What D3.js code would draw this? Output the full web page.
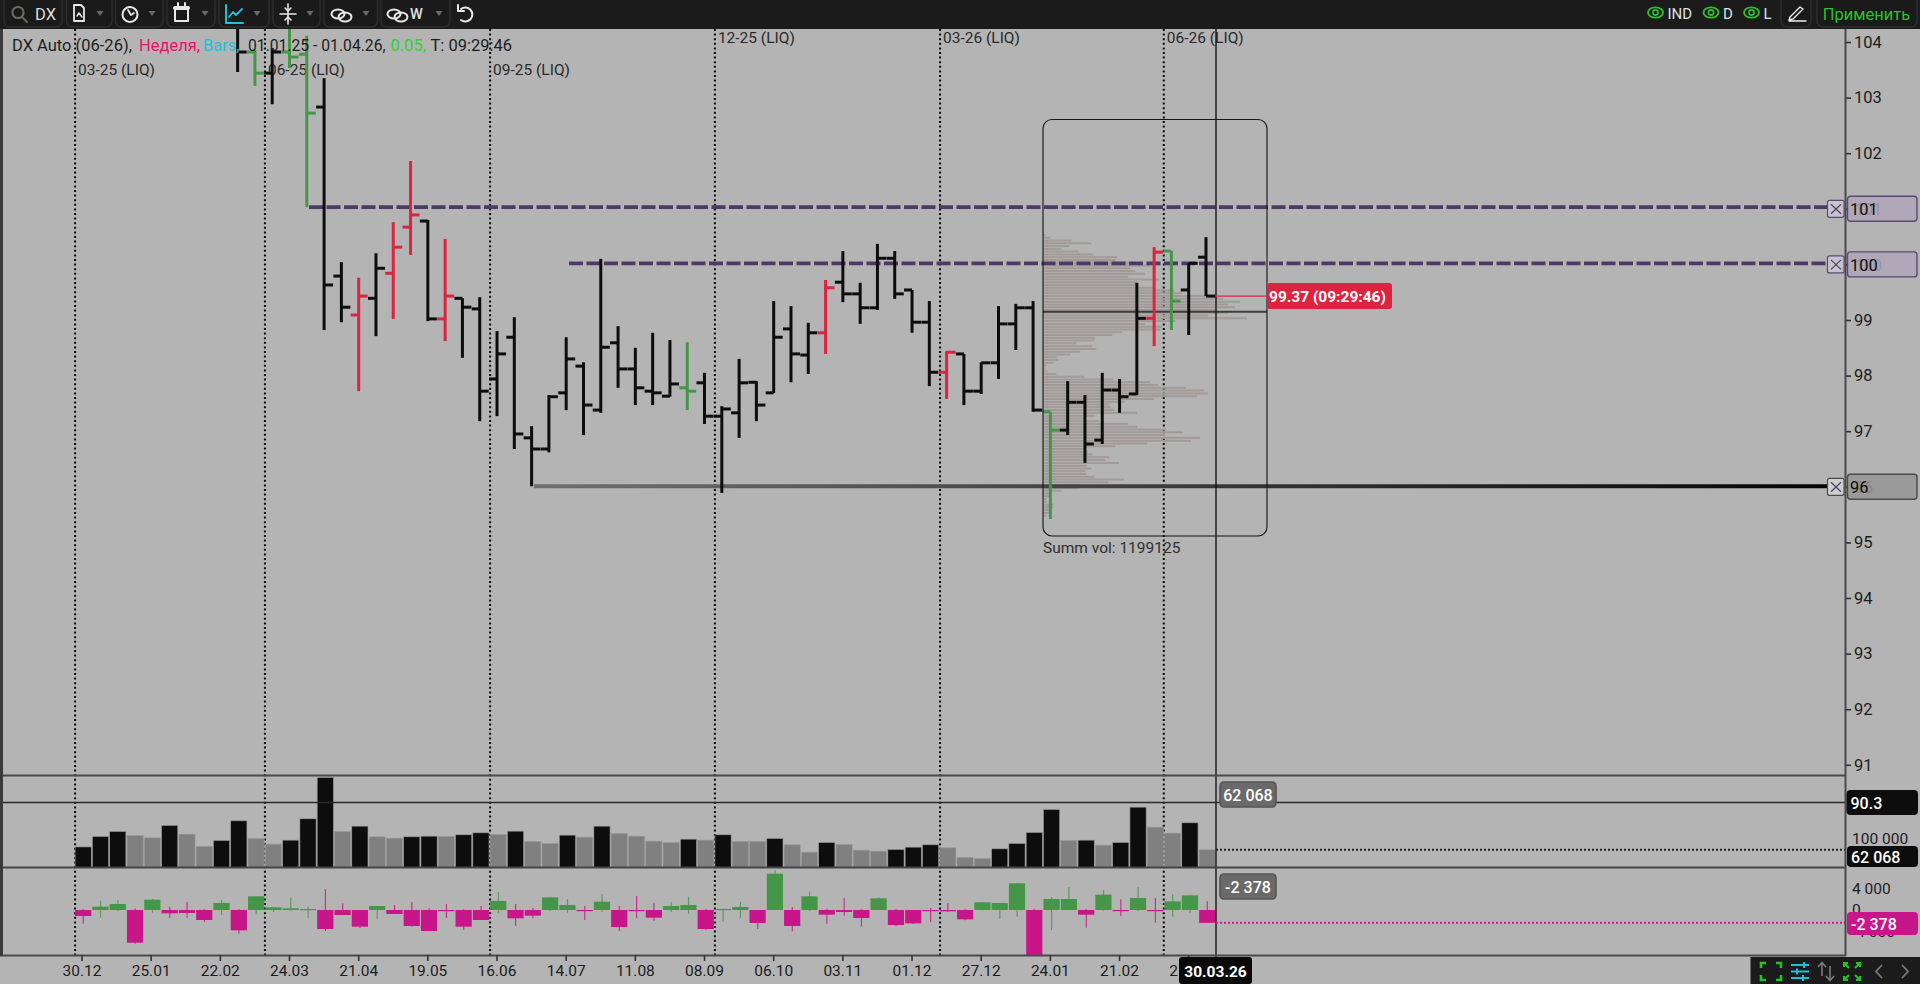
<!DOCTYPE html>
<html><head><meta charset="utf-8"><title>DX</title>
<script src="https://cdn.jsdelivr.net/npm/d3@7"></script>
<style>
html,body{margin:0;padding:0;background:#b4b4b4;overflow:hidden}
svg{display:block}
text{font-family:Roboto,"Noto Sans",sans-serif}
</style></head><body><svg id="c" width="1920" height="984"></svg>
<script>
// ---- data ----
const dateLabels=["30.12","25.01","22.02","24.03","21.04","19.05","16.06","14.07","11.08","08.09","06.10","03.11","01.12","27.12","24.01","21.02","21.03"];
const priceTicks=[91,92,93,94,95,96,97,98,99,100,101,102,103,104];
const firstVisibleBar=9;
const barHigh=[104.5,103.86,103.89,104.5,104.11,103.35,100.04,99.76,100.20,100.76,101.86,100.80,100.46,99.39,99.41,98.80,99.05,97.09,97.65,98.69,98.24,100.10,98.89,98.50,98.77,98.64,98.60,98.05,97.45,98.30,97.90,99.34,99.25,98.95,99.72,100.24,99.67,100.37,100.24,99.54,99.34,98.44,98.39,98.24,99.25,99.29,99.34,97.35,97.90,97.65,98.05,97.94,99.67,100.31,100.24,100.02,100.49];
const barLow=[103.46,103.21,102.88,103.53,101.03,98.82,98.96,97.72,98.71,99.02,100.17,98.98,98.62,98.32,97.18,97.27,96.68,96.01,96.62,97.38,96.93,97.33,97.78,97.47,97.47,97.62,97.38,97.13,95.89,96.88,97.18,97.69,97.88,98.03,98.39,99.32,98.93,99.18,99.38,98.77,97.81,97.58,97.47,97.67,97.94,98.46,97.35,95.42,96.93,96.43,96.77,97.33,97.65,98.53,98.82,98.73,99.43];
const barOpen=[104.4,103.82,103.44,103.82,103.78,102.83,99.79,99.09,99.39,99.84,100.67,100.78,99.02,99.39,99.20,97.94,98.69,96.88,96.68,97.69,98.17,97.38,98.59,98.12,97.72,97.63,97.78,97.87,97.27,97.33,97.88,97.69,98.84,98.37,98.77,99.68,99.47,99.22,100.11,99.54,98.96,98.06,98.39,97.72,98.23,98.93,99.22,97.35,97.02,97.52,96.84,97.74,97.67,99.03,100.24,99.54,100.13];
const barClose=[103.82,103.44,103.82,103.73,102.72,99.63,99.23,99.43,99.93,100.31,100.89,99.02,99.43,99.23,97.72,98.39,96.95,96.68,97.62,98.30,97.47,98.51,98.12,97.78,97.69,97.85,97.72,97.27,97.40,97.87,97.47,98.69,98.39,98.77,99.58,99.47,99.22,100.11,99.47,98.96,98.06,98.42,97.72,98.23,98.93,99.22,97.38,97.02,97.52,96.77,97.74,97.62,99.03,100.22,99.34,100.02,99.43];
const redBars=[16,18,19,21,43,50,62];
const greenBars=[10,12,13,35,56,63];
const volume=[72000,108500,126000,112000,103900,147000,116700,73500,94500,163400,101500,81700,95700,170400,315000,126000,144700,107400,102700,107400,109700,108500,114400,121400,115500,127200,91000,84000,113200,106200,144700,119000,109700,92200,87500,99200,95700,114400,91000,91000,101500,79400,53700,87500,80500,60700,57200,63000,71200,79400,68900,35000,31500,65400,84000,122500,203000,94500,95700,78200,87500,211200,141200,120200,156400,62068];
const greyVolumeBars=[3,4,6,7,10,11,15,17,18,21,24,26,27,29,31,32,33,34,36,38,39,41,42,44,45,46,50,51,52,57,59,62,63,65];
const deltaClose=[-1110,617,1110,-6050,1910,-617,-555,-1850,1300,-3760,2530,494,310,185,-3520,-925,-3085,740,-740,-2960,-3890,-120,-3085,-1850,1670,-1540,-1050,2340,925,-185,1540,-3150,-120,-1420,740,925,-3520,185,555,-2400,6725,-2960,2530,-864,-370,-1480,2160,-2780,-2470,-60,-247,-1730,1420,1300,4940,-8800,2040,2040,-864,2840,-185,2220,-185,1600,2710,-2378];
const deltaHigh=[120,1730,1850,300,2040,617,1480,120,1850,120,2530,494,2280,617,3890,1230,0,740,925,1480,308,1110,120,740,3330,1110,370,2340,2040,740,2960,740,2590,1360,1480,2470,120,310,1480,0,7400,555,3400,247,2220,120,2340,120,0,370,1300,120,1420,1300,4940,120,2400,4260,120,3700,1970,4260,2220,2900,2710,1600];
const deltaLow=[-2530,-1420,-185,-6230,-490,-1480,-1480,-2220,-925,-4380,-800,-370,-120,-1480,-3890,-925,-3330,-1730,-740,-3085,-3890,-1480,-3700,-1850,-617,-2960,-1540,-120,-494,-1850,-310,-3890,-1540,-2040,-370,-740,-3700,-2160,-1540,-3520,0,-4000,-185,-2530,-1050,-3085,0,-2900,-2590,-2280,-370,-1910,-60,-1670,-1230,-8800,-3700,0,-3270,-120,-1110,-120,-2340,-1230,-494,-2378];
const profileTopPrice=100.53, profileStep=0.05, pocPrice=99.15;
const profileVolume=[15,30,93,153,87,63,114,159,231,225,280,330,270,285,315,264,357,290,295,345,402,425,525,549,600,564,585,528,564,504,621,405,315,366,360,246,216,165,162,108,156,168,120,90,51,54,39,18,15,21,48,132,219,330,354,438,492,504,471,342,255,207,210,222,291,165,135,177,264,291,378,429,375,480,453,321,225,135,142,156,207,195,237,140,153,135,138,162,252,204,120,117,63,30,27,18,20,39,38,27,27,18,10];
const levelPrices=[101.03,100.02,96.01];
const rolloverBars=[-0.4,10.58,23.6,36.6,49.62,62.56];
const rolloverNames=["03-25 (LIQ)","06-25 (LIQ)","09-25 (LIQ)","12-25 (LIQ)","03-26 (LIQ)","06-26 (LIQ)"];

// ---- scales ----
const svg=d3.select("#c");
const x=d3.scaleLinear().domain([0,65]).range([82,1206]);
const y=d3.scaleLinear().domain([104,91]).range([42,764.8]);
const yVol=d3.scaleLinear().domain([0,315000]).range([867.5,777.5]);
const yDelta=d3.scaleLinear().domain([-8880,7400]).range([958,870]);
const xProf=d3.scaleLinear().domain([0,621]).range([1040.4,1247]);
const col={k:"#0d0d0d",r:"#dc2340",g:"#46964a"};
const barKind=i=>redBars.includes(i)?"r":greenBars.includes(i)?"g":"k";
const font="Roboto,'Noto Sans',sans-serif";

function rect(p,a,b,w,h,f,s,r){return p.append("rect").attr("x",a).attr("y",b).attr("width",w).attr("height",h).attr("fill",f||"none").attr("stroke",s||"none").attr("rx",r||0)}
function line(p,a,b,c,d,s,w,dash){const l=p.append("line").attr("x1",a).attr("y1",b).attr("x2",c).attr("y2",d).attr("stroke",s).attr("stroke-width",w);if(dash)l.attr("stroke-dasharray",dash);return l}
function txt(p,t,a,b,s,f,o){o=o||{};return p.append("text").text(t).attr("x",a).attr("y",b).attr("font-size",s).attr("fill",f).attr("text-anchor",o.anchor||"start").attr("font-weight",o.w||400).attr("dominant-baseline","central").attr("opacity",o.op==null?1:o.op)}

const defs=svg.append("defs");
defs.append("clipPath").attr("id","pMain").append("rect").attr("x",3).attr("y",29).attr("width",1842).attr("height",746);
defs.append("clipPath").attr("id","pVol").append("rect").attr("x",3).attr("y",776).attr("width",1842).attr("height",91);
defs.append("clipPath").attr("id","pDelta").append("rect").attr("x",3).attr("y",868).attr("width",1842).attr("height",87);
const gr=defs.append("linearGradient").attr("id","g96").attr("gradientUnits","userSpaceOnUse").attr("x1",534).attr("x2",1827).attr("y1",0).attr("y2",0);
gr.append("stop").attr("offset",0).attr("stop-color","#707070");
gr.append("stop").attr("offset",1).attr("stop-color","#050505");

rect(svg,0,0,1920,984,"#b4b4b4");

// rollover verticals
rolloverBars.forEach(b=>line(svg,x(b),29,x(b),955,"#0a0a0a",2,"2 2.6"));
rolloverNames.forEach((n,i)=>txt(svg,n,x(rolloverBars[i])+3,i<3?70:38,15.5,"#2a2a2a"));

// profile
const main=svg.append("g").attr("clip-path","url(#pMain)");
main.selectAll("line.prof").data(profileVolume).join("line").attr("class","prof")
 .attr("x1",1043).attr("x2",d=>xProf(d))
 .attr("y1",(d,i)=>y(profileTopPrice-i*profileStep)).attr("y2",(d,i)=>y(profileTopPrice-i*profileStep))
 .attr("stroke","#a29999").attr("stroke-width",2);

// level lines
[levelPrices[0],levelPrices[1]].forEach((p,i)=>{
 line(main,i==0?309:569,y(p),1827,y(p),"#4b3a63",3.8,"14 3.5");
});
line(main,534,y(levelPrices[2]),1827,y(levelPrices[2])+.01,"url(#g96)",4);

// POC
line(main,1043,y(pocPrice),1267,y(pocPrice),"#3e3e3e",2);

// OHLC
const bars=main.selectAll("g.bar").data(barHigh.map((h,i)=>({i:i+firstVisibleBar,h,l:barLow[i],o:barOpen[i],c:barClose[i],k:barKind(i+firstVisibleBar)}))).join("g").attr("class","bar");
bars.append("line").attr("x1",d=>x(d.i)).attr("x2",d=>x(d.i)).attr("y1",d=>y(d.h)).attr("y2",d=>y(d.l)).attr("stroke",d=>col[d.k]).attr("stroke-width",3);
bars.append("line").attr("x1",d=>x(d.i)-8).attr("x2",d=>x(d.i)).attr("y1",d=>y(d.o)).attr("y2",d=>y(d.o)).attr("stroke",d=>col[d.k]).attr("stroke-width",3);
bars.append("line").attr("x1",d=>x(d.i)).attr("x2",d=>x(d.i)+9).attr("y1",d=>y(d.c)).attr("y2",d=>y(d.c)).attr("stroke",d=>col[d.k]).attr("stroke-width",3);

// profile box
rect(svg,1043,119.5,224,416.5,"none","#151515",9).attr("stroke-width",1.1);
txt(svg,"Summ vol: 1199125",1043,548,15.5,"#2f2f2f");

// volume pane
const vg=svg.append("g").attr("clip-path","url(#pVol)");
vg.selectAll("rect").data(volume).join("rect")
 .attr("x",(d,i)=>x(i)-6.9).attr("width",16.2).attr("y",d=>yVol(d)).attr("height",d=>yVol(0)-yVol(d))
 .attr("fill",(d,i)=>greyVolumeBars.includes(i)?"#808080":"#0d0d0d").attr("stroke","#9a9a9a").attr("stroke-width",.6);

// delta pane
const dg=svg.append("g").attr("clip-path","url(#pDelta)");
const dc=d=>d>=0?"#46964a":"#c9158a";
dg.selectAll("line").data(deltaClose).join("line")
 .attr("x1",(d,i)=>x(i)+1.3).attr("x2",(d,i)=>x(i)+1.3).attr("y1",(d,i)=>yDelta(deltaHigh[i])).attr("y2",(d,i)=>yDelta(deltaLow[i]))
 .attr("stroke",d=>dc(d)).attr("stroke-width",1.2).attr("opacity",.8);
dg.selectAll("rect").data(deltaClose).join("rect")
 .attr("x",(d,i)=>x(i)-6.9).attr("width",16.2).attr("y",d=>Math.min(yDelta(d),yDelta(0))).attr("height",d=>Math.max(1.2,Math.abs(yDelta(d)-yDelta(0))))
 .attr("fill",d=>dc(d));

// crosshair and pointers
line(svg,1216,29,1216,957,"#0a0a0a",1.3);
line(svg,3,802.5,1846,802.5,"#2a2a2a",1.4);
line(svg,1216,yVol(62068),1846,yVol(62068),"#222",2,"2 2");
line(svg,1216,yDelta(-2378),1846,yDelta(-2378),"#d01590",2,"2 2");
line(svg,1216,y(99.43),1267,y(99.43),"#dc2340",1.2);
rect(svg,1267,283,125,26,"#dc2340",null,3);
txt(svg,"99.37 (09:29:46)",1269,296.5,15.5,"#fff",{w:700});

// pane frames
line(svg,0,775.5,1846,775.5,"#4a4a4a",2);
line(svg,0,867.5,1846,867.5,"#454545",2);
line(svg,0,955.5,1846,955.5,"#4a4a4a",2);
rect(svg,0,29,3,927,"#3a3a3a");
line(svg,1845.5,29,1845.5,956,"#4a4a4a",2);

// axes
const aP=svg.append("g").attr("transform","translate(1846,0)").call(d3.axisRight(y).tickValues(priceTicks).tickSize(5).tickPadding(3).tickFormat(d3.format("d")));
const aV=svg.append("g").attr("transform","translate(1846,0)").call(d3.axisRight(yVol).tickValues([100000]).tickSize(0).tickPadding(6).tickFormat(()=>"100 000"));
const aD=svg.append("g").attr("transform","translate(1846,0)").call(d3.axisRight(yDelta).tickValues([4000,0,-4000]).tickSize(0).tickPadding(6).tickFormat(d=>d3.format("d")(Math.abs(d)).replace(/(\d)(\d{3})$/,"$1 $2").replace(/^/,d<0?"-":"")));
const aX=svg.append("g").attr("transform","translate(-0.5,955)").call(d3.axisBottom(x).tickValues(dateLabels.map((d,i)=>i*4)).tickSize(6).tickPadding(4).tickFormat((d,i)=>dateLabels[i]));
[aP,aV,aD,aX].forEach(a=>{a.select(".domain").remove();a.selectAll("line").attr("stroke","#333").attr("stroke-width",1.6);a.selectAll("text").attr("fill","#1c1c1c").attr("font-size",15.5).attr("font-family",font)});
aP.selectAll("text").attr("font-size",16.5);

// level tags on the price axis
function levelTag(label,cy,fill,stroke){
 rect(svg,1847.5,cy-12.5,69.5,25,fill,stroke,3).attr("stroke-width",1.4);
 txt(svg,label,1855,cy+1,16,"#111",{op:.15});
 txt(svg,label,1850,cy+1,16.5,"#0c0c0c");
 rect(svg,1827.5,cy-8.5,16.5,17,fill=="#9a9a9a"?"#cfcfcf":"#c9c3cf",stroke,2).attr("stroke-width",1.2);
 line(svg,1831,cy-4.5,1841,cy+5,"#4a4458",1.2);line(svg,1841,cy-4.5,1831,cy+5,"#4a4458",1.2);
}
levelTag("101",y(101),"#b0a7b8","#5a4a70");
levelTag("100",y(100),"#b0a7b8","#5a4a70");
levelTag("96",y(96),"#9a9a9a","#4a4a4a");

// value tags
function tag(t,a,b,w,h,f,s,left){rect(svg,a,b,w,h,f,s,4).attr("stroke-width",1.6);txt(svg,t,left?a+4:a+w/2,b+h/2+.5,16,"#fff",{anchor:left?"start":"middle",w:500})}
tag("90.3",1846.5,790,71.5,25,"#0d0d0d",null,true);
tag("62 068",1847,846,71,21,"#0d0d0d",null,true);
tag("-2 378",1847,912,71,23,"#c9158a",null,true);
tag("62 068",1220,782,56,25,"#6a6a6a","#555");
tag("-2 378",1220,874,56,25,"#6a6a6a","#555");
// last date
rect(svg,1179,957,73,27,"#0a0a0a",null,3);
txt(svg,"30.03.26",1215.5,971.5,15.5,"#fff",{anchor:"middle",w:700});

// header
const hdr=[["DX Auto (06-26),",12,"#1d1d1d",16.5],["Неделя,",139,"#ee0f6b",16.5],["Bars,",203,"#1fc0de",16.5],["01.01.25 - 01.04.26,",248,"#1d1d1d",15.7],["0.05,",390.5,"#2fd22f",16.5],["T: 09:29:46",430.5,"#1d1d1d",16.5]];
hdr.forEach(h=>txt(svg,h[0],h[1],45.5,h[3],h[2]));

// top toolbar
rect(svg,0,0,1920,29,"#1b1b1b");
const tb=svg.append("g");
[[4,58],[66.5,45.5],[115.5,47.5],[167,48],[219,50],[273,47],[324,53.5],[381,69],[1781,30],[1817,100]].forEach(b=>rect(tb,b[0],-6,b[1],33,"#1a1a1a","#2e2e2e",6).attr("stroke-width",1.4));
const ic=(d,s,w,f)=>tb.append("path").attr("d",d).attr("stroke",s).attr("stroke-width",w||2).attr("fill",f||"none").attr("stroke-linecap","round").attr("stroke-linejoin","round");
// search + DX
tb.append("circle").attr("cx",18).attr("cy",12.5).attr("r",5.6).attr("fill","none").attr("stroke","#6e6a60").attr("stroke-width",2);
ic("M22 17 L27 22","#6e6a60",2);
txt(tb,"DX",35,14,16.5,"#dcdcdc");
// doc
ic("M74 5 H81 L84 8 V21 H74 Z","#e8e8e8",1.8);ic("M77 16 L79 13 L82 17","#e8e8e8",1.4);
// clock
tb.append("circle").attr("cx",130).attr("cy",14.5).attr("r",7.5).attr("fill","none").attr("stroke","#e8e8e8").attr("stroke-width",2);ic("M128 10 L131 15 L134 13","#e8e8e8",1.8);
// calendar
ic("M175 7 H188 V21 H175 Z","#e8e8e8",2);ic("M175 8 H188","#e8e8e8",4);ic("M178 3 V6 M185 3 V6","#e8e8e8",2);
// chart
ic("M226 5 V23 H243","#1fc0de",2);ic("M229 17 L233 12 L236 15 L242 9","#1fc0de",1.8);
// crosshair
ic("M288 4 V24 M280 14 H296","#e8e8e8",1.6);ic("M285 8 L288 11 L291 8 M285 20 L288 17 L291 20","#e8e8e8",1.6);
// link
[[338,14],[345,17]].forEach(c=>tb.append("ellipse").attr("cx",c[0]).attr("cy",c[1]).attr("rx",6.5).attr("ry",4.6).attr("fill","none").attr("stroke","#e8e8e8").attr("stroke-width",2));
[[394,14],[401,17]].forEach(c=>tb.append("ellipse").attr("cx",c[0]).attr("cy",c[1]).attr("rx",6.5).attr("ry",4.6).attr("fill","none").attr("stroke","#e8e8e8").attr("stroke-width",2));
txt(tb,"W",410,14.5,14.5,"#e0e0e0",{w:500});
// carets
[100,152,205,257,310,366,439].forEach(c=>tb.append("path").attr("d",`M${c-3.5} 11 H${c+3.5} L${c} 16 Z`).attr("fill","#6a6a6a"));
// undo
ic("M461 9 A7 7 0 1 1 461 20","#e8e8e8",2);ic("M458 5 V11 H464","#e8e8e8",2);
// right items
function eye(c){tb.append("ellipse").attr("cx",c).attr("cy",12.5).attr("rx",7.5).attr("ry",5.2).attr("fill","none").attr("stroke","#2bc32b").attr("stroke-width",1.8);tb.append("circle").attr("cx",c).attr("cy",12.5).attr("r",2.6).attr("fill","none").attr("stroke","#2bc32b").attr("stroke-width",1.6)}
eye(1655.5);eye(1711);eye(1751.5);
txt(tb,"IND",1667.5,13.5,15,"#d9e2ea");txt(tb,"D",1723,13.5,15,"#d9e2ea");txt(tb,"L",1763.5,13.5,15,"#d9e2ea");
ic("M1790 17 L1800 7 L1803 9 L1793 19 L1789 20 Z M1789 21 H1806","#eeeeee",1.4);
txt(tb,"Применить",1866.5,14,16.5,"#28c22b",{anchor:"middle"});

// bottom toolbar
rect(svg,1750.5,957,170,27,"#1b1b1b");
const bt=svg.append("g");
const ib=(d,s,w)=>bt.append("path").attr("d",d).attr("stroke",s).attr("stroke-width",w||2).attr("fill","none");
ib("M1761 968 V963 H1766 M1776 963 H1781 V968 M1761 975 V980 H1766 M1776 980 H1781 V975","#22c322",2.6);
ib("M1791 965 H1809 M1791 971.5 H1809 M1791 978 H1809 M1804 962 V968 M1797 968.5 V974.5 M1803 975 V981","#1fc0de",2);
ib("M1822 976 V963 M1818 967 L1822 962.5 L1826 967 M1830 966 V980 M1826 976 L1830 980.5 L1834 976","#7a7a7a",1.6);
ib("M1844 963 L1849 968 M1844 967 V963 H1848 M1860 963 L1855 968 M1860 967 V963 H1856 M1844 980 L1849 975 M1844 976 V980 H1848 M1860 980 L1855 975 M1860 976 V980 H1856","#22c322",2);
ib("M1882 965 L1876 971.5 L1882 978","#7a7a7a",1.8);
ib("M1902 965 L1908 971.5 L1902 978","#7a7a7a",1.8);
</script></body></html>
